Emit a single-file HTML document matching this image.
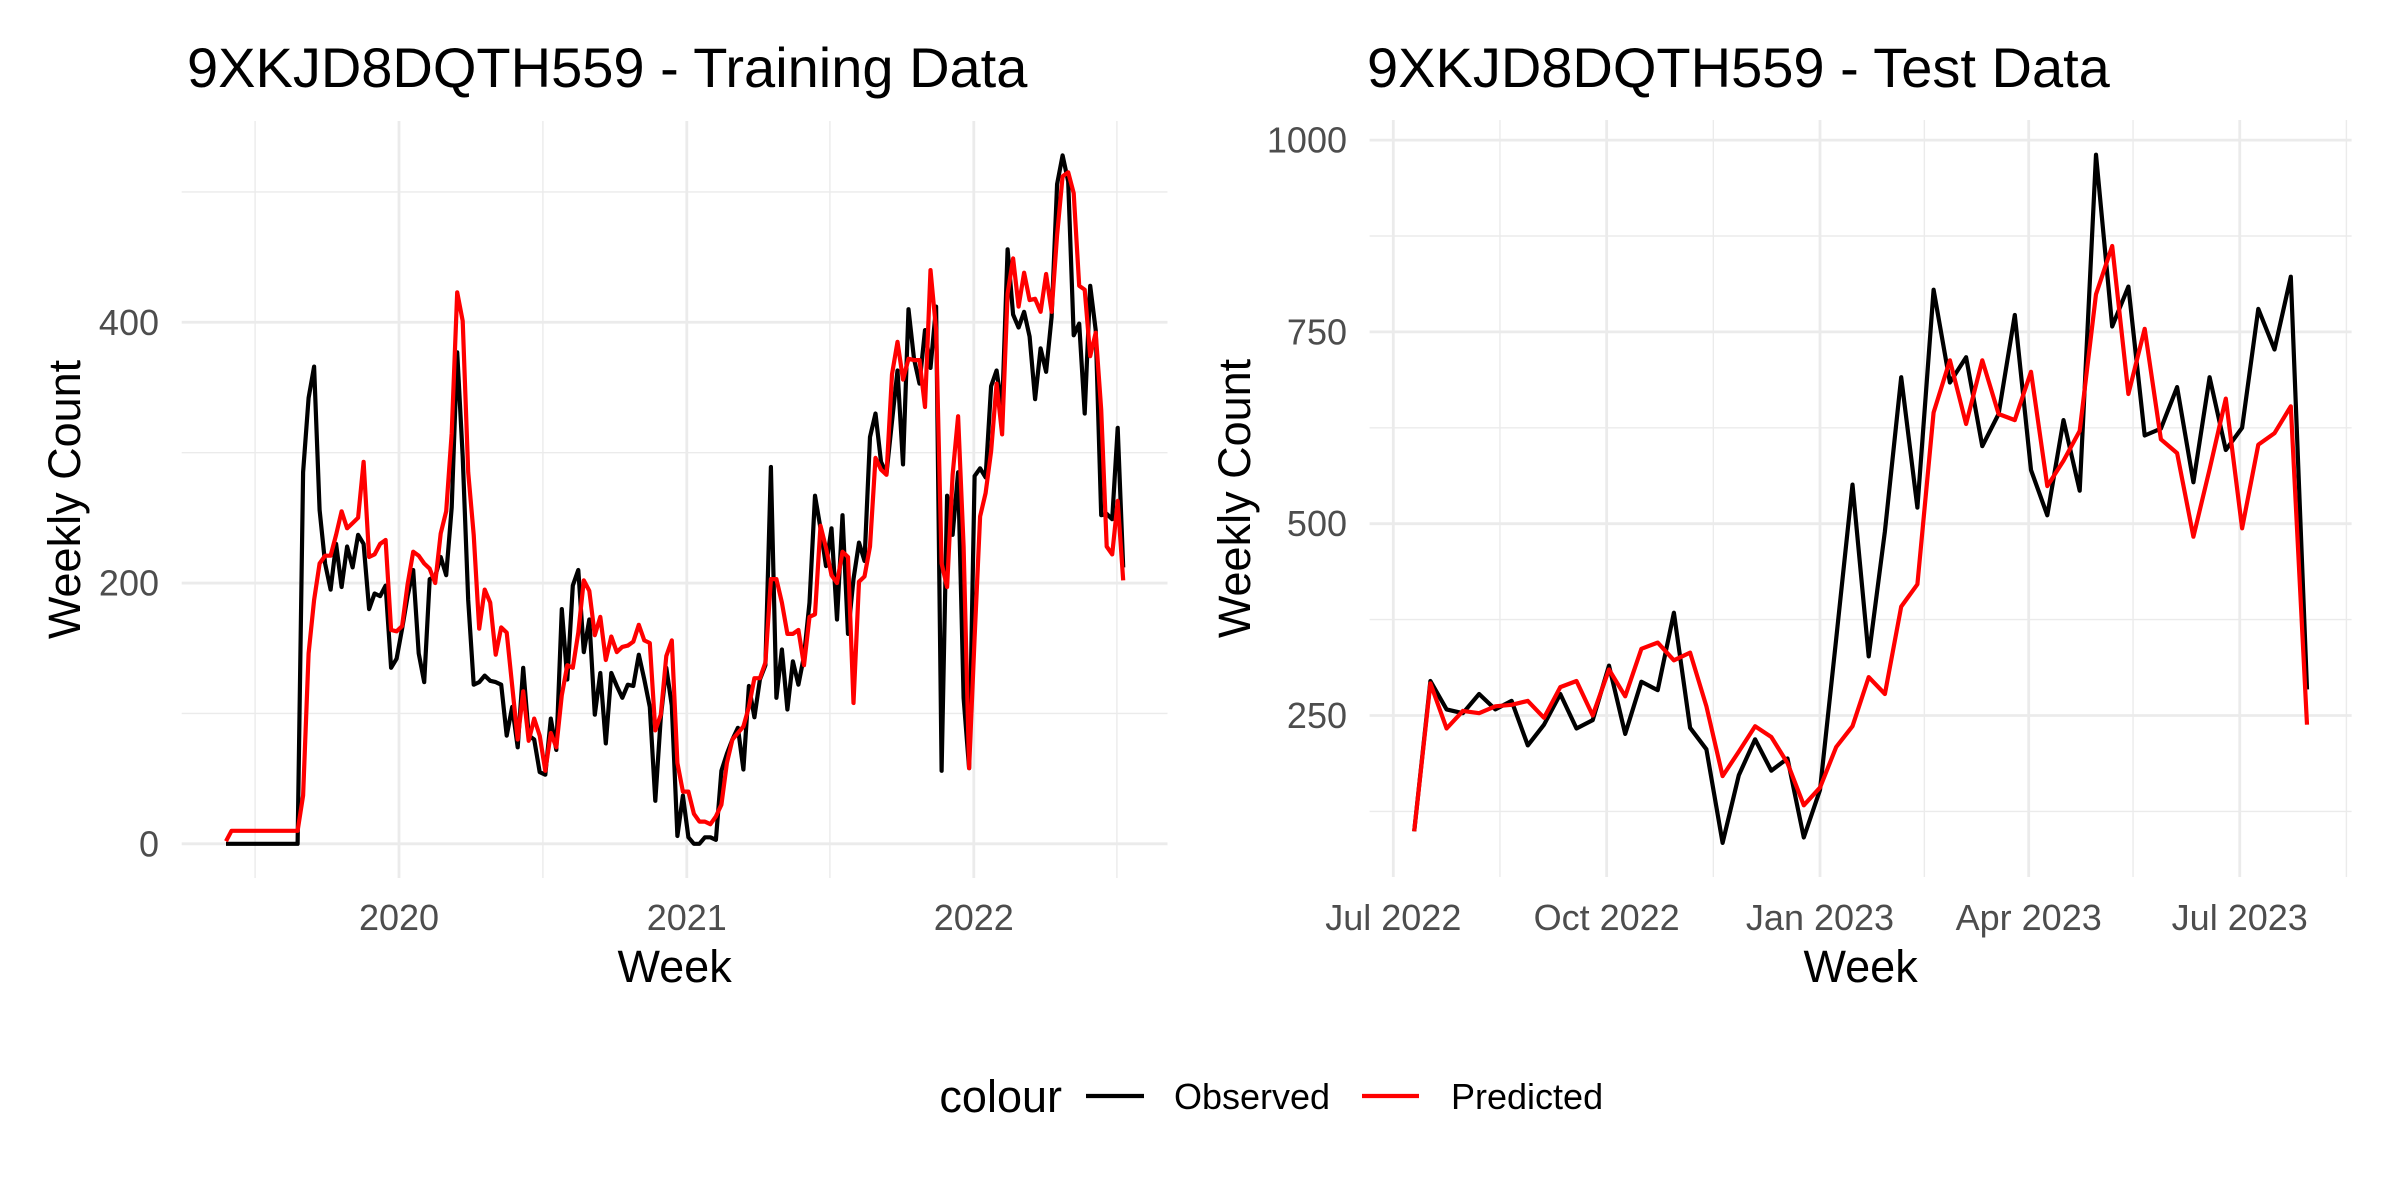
<!DOCTYPE html>
<html><head><meta charset="utf-8"><style>
html,body{margin:0;padding:0;background:#fff;}
svg{display:block;font-family:"Liberation Sans",Arial,sans-serif;}
</style></head><body>
<svg id="chart" width="2400" height="1200" viewBox="0 0 2400 1200" xmlns="http://www.w3.org/2000/svg">
<rect width="2400" height="1200" fill="#fff"/>
<text x="187" y="87" font-size="56" fill="#000">9XKJD8DQTH559 - Training Data</text>
<text x="1367" y="87" font-size="56" fill="#000">9XKJD8DQTH559 - Test Data</text>
<g id="left"></g>
<g id="right"></g>
<g>
<text x="1062" y="1112" font-size="45" text-anchor="end" fill="#000">colour</text>
<line x1="1086" y1="1096" x2="1144" y2="1096" stroke="#000" stroke-width="4.2"/>
<text x="1174" y="1109" font-size="36" fill="#000">Observed</text>
<line x1="1362" y1="1096" x2="1419" y2="1096" stroke="#f00" stroke-width="4.2"/>
<text x="1451" y="1109" font-size="36" fill="#000">Predicted</text>
</g>
</svg>
<script>
// ---- Training data ----
const trainStart = "2019-05-26";
const trainObserved = [0,0,0,0,0,0,0,0,0,0,0,0,0,0,285,342,366,256,215,195,230,197,228,212,237,230,180,192,190,198,135,142,165,190,210,146,124,203,205,220,206,258,377,297,187,122,124,129,125,124,122,83,105,74,135,83,80,55,53,96,72,180,126,198,210,147,172,99,131,77,131,121,112,122,121,145,126,105,33,97,135,106,6,37,5,0,0,5,5,3,56,69,80,89,57,121,97,126,137,289,112,149,103,140,122,144,185,267,242,213,242,172,252,161,203,231,217,312,330,293,284,324,363,291,410,372,353,394,365,412,56,267,237,285,112,58,282,288,281,351,363,333,456,406,396,408,389,341,380,362,404,506,528,508,390,399,330,428,394,252,253,249,319,212];
const trainPredicted = [2,10,10,10,10,10,10,10,10,10,10,10,10,10,37,146,187,215,221,221,237,255,242,246,250,293,220,222,230,233,164,163,167,199,224,221,215,211,200,238,255,315,423,401,285,237,165,195,185,145,166,162,121,80,117,79,96,83,56,85,74,114,137,135,162,202,194,160,174,141,159,147,151,152,155,168,156,154,87,99,144,156,62,40,40,23,17,17,15,21,30,62,80,85,90,105,127,127,139,203,203,185,161,161,164,137,174,176,244,227,206,200,224,220,108,201,205,228,296,287,283,360,385,356,372,371,371,335,440,394,215,197,283,328,228,58,158,251,269,301,353,314,422,449,412,438,417,418,408,437,408,467,512,515,499,428,425,374,392,333,228,222,263,202];
const trainYTicks = [0,200,400];
const trainYMinor = [100,300,500];
const trainXTicks = ["2020-01-01","2021-01-01","2022-01-01"];
const trainXTickLabels = ["2020","2021","2022"];
const trainXMinor = ["2019-07-02","2020-07-02","2021-07-02","2022-07-02"];
// ---- Test data ----
const testStart = "2022-07-10";
const testObserved = [99,295,258,253,278,258,269,211,238,278,233,244,315,226,294,283,384,234,206,84,172,219,178,194,91,153,350,551,327,490,691,521,805,684,717,601,643,772,570,511,635,543,981,757,809,615,624,678,554,691,596,625,780,727,822,284];
const testPredicted = [99,292,233,256,253,262,264,269,247,287,295,250,310,275,337,345,322,332,262,171,203,236,222,188,133,156,209,236,300,278,392,421,645,713,630,713,643,635,698,549,582,621,799,862,669,754,610,592,483,571,663,494,603,618,653,238];
const testYTicks = [250,500,750,1000];
const testYMinor = [125,375,625,875];
const testXTicks = ["2022-07-01","2022-10-01","2023-01-01","2023-04-01","2023-07-01"];
const testXTickLabels = ["Jul 2022","Oct 2022","Jan 2023","Apr 2023","Jul 2023"];
const testXMinor = ["2022-08-16","2022-11-16","2023-02-15","2023-05-16","2023-08-16"];

const NS="http://www.w3.org/2000/svg";
function mk(tag,attrs,parent){const e=document.createElementNS(NS,tag);for(const k in attrs)e.setAttribute(k,attrs[k]);parent.appendChild(e);return e;}
function days(s,ref){return (Date.parse(s+"T00:00:00Z")-Date.parse(ref+"T00:00:00Z"))/86400000;}
function weekDate(start,i){const d=new Date(Date.parse(start+"T00:00:00Z")+i*7*86400000);return d.toISOString().slice(0,10);}

function drawPanel(g,cfg){
  const xs=d=>cfg.x0+days(d,cfg.xref)*cfg.xk;
  const ys=v=>cfg.y0-(v-cfg.yref)*cfg.yk;
  const P=cfg.panel;
  for(const v of cfg.yMinor){const y=ys(v);const l=mk('line',{x1:P[0],x2:P[1],y1:y,y2:y,stroke:'#ebebeb','stroke-width':1.4},g);
    
    }
  for(const d of cfg.xMinor){const x=xs(d);if(x<P[0]||x>P[1])continue;const l=mk('line',{x1:x,x2:x,y1:P[2],y2:P[3],stroke:'#ebebeb','stroke-width':1.4},g);
    
    }
  for(const v of cfg.yTicks){const y=ys(v);const l=mk('line',{x1:P[0],x2:P[1],y1:y,y2:y,stroke:'#ebebeb','stroke-width':2.8},g);
    
    
    const t=mk('text',{x:cfg.yLabX,y:y+12.5,'font-size':36,fill:'#4d4d4d','text-anchor':'end'},g);t.textContent=String(v);
    
    }
  cfg.xTicks.forEach((d,i)=>{const x=xs(d);const l=mk('line',{x1:x,x2:x,y1:P[2],y2:P[3],stroke:'#ebebeb','stroke-width':2.8},g);
    
    
    const t=mk('text',{x:x,y:930,'font-size':36,fill:'#4d4d4d','text-anchor':'middle'},g);t.textContent=cfg.xLabels[i];
    
    });
  const cx=(P[0]+P[1])/2, cy=(P[2]+P[3])/2;
  const xt=mk('text',{x:cx,y:982,'font-size':45,fill:'#000','text-anchor':'middle'},g);xt.textContent='Week';
  
  
  const yt=mk('text',{x:0,y:0,'font-size':45,fill:'#000','text-anchor':'middle',transform:`translate(${cfg.yTitleX},${cy}) rotate(-90)`},g);yt.textContent='Weekly Count';
  
  
  const series=[[cfg.obs,'#000','observed-line'],[cfg.pred,'#f00','predicted-line']];
  for(const [arr,col,name] of series){
    const pts=arr.map((v,i)=>xs(weekDate(cfg.start,i)).toFixed(1)+','+ys(v).toFixed(1)).join(' ');
    const pl=mk('polyline',{points:pts,fill:'none',stroke:col,'stroke-width':4.2,'stroke-linejoin':'round'},g);
    
    
  }
}
drawPanel(document.getElementById('left'),{
  x0:399,xref:"2020-01-01",xk:287.2/365.25,y0:843.8,yref:0,yk:1.3038,
  panel:[181.7,1167.5,121,878],yMinor:trainYMinor,yTicks:trainYTicks,xTicks:trainXTicks,xLabels:trainXTickLabels,xMinor:trainXMinor,
  yLabX:159,yTitleX:80,obs:trainObserved,pred:trainPredicted,start:trainStart});
drawPanel(document.getElementById('right'),{
  x0:1393.3,xref:"2022-07-01",xk:2.319,y0:715.5,yref:250,yk:0.7672,
  panel:[1369.6,2351.6,120,877],yMinor:testYMinor,yTicks:testYTicks,xTicks:testXTicks,xLabels:testXTickLabels,xMinor:testXMinor,
  yLabX:1347,yTitleX:1250,obs:testObserved,pred:testPredicted,start:testStart});
</script>
</body></html>
